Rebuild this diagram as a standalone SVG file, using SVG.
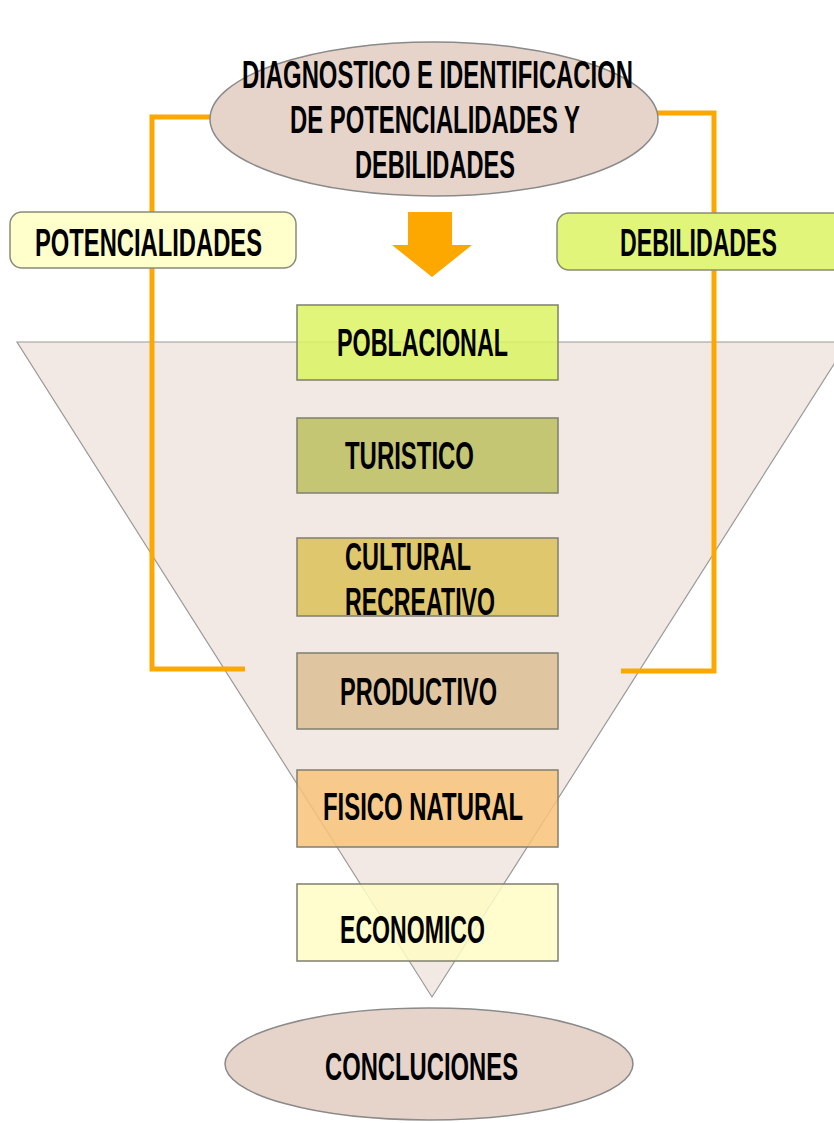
<svg xmlns="http://www.w3.org/2000/svg" width="834" height="1123" viewBox="0 0 834 1123">
<style>
.t{font-family:"Liberation Sans","DejaVu Sans",sans-serif;font-weight:bold;font-size:38px;fill:#000}
.box{stroke:#7f7f6f;stroke-width:1.5;fill-opacity:0.85}
.ell{fill:#e6d4ca;stroke:#8a8a8a;stroke-width:1.5}
.con{fill:none;stroke:#fca800;stroke-width:5}
</style>
<rect width="834" height="1123" fill="#fff"/>
<g id="funnel"><polygon points="17,342 848,342 432,997" fill="#d9bdb3" fill-opacity="0.35" stroke="#9a9a9a" stroke-width="1.2"/></g>
<g id="box-poblacional"><rect class="box" x="297" y="305" width="261" height="75" fill="#daf362"/><text class="t" x="337" y="356" textLength="171" lengthAdjust="spacingAndGlyphs">POBLACIONAL</text></g>
<g id="box-turistico"><rect class="box" x="297" y="418" width="261" height="75" fill="#bdbf5f"/><text class="t" x="345" y="469" textLength="129" lengthAdjust="spacingAndGlyphs">TURISTICO</text></g>
<g id="box-cultural"><rect class="box" x="297" y="538" width="261" height="78" fill="#dcc158"/><text class="t" x="345" y="570" textLength="126" lengthAdjust="spacingAndGlyphs">CULTURAL</text><text class="t" x="345" y="615" textLength="150" lengthAdjust="spacingAndGlyphs">RECREATIVO</text></g>
<g id="box-productivo"><rect class="box" x="297" y="653" width="261" height="76" fill="#dcc094"/><text class="t" x="340" y="705" textLength="157" lengthAdjust="spacingAndGlyphs">PRODUCTIVO</text></g>
<g id="box-fisico"><rect class="box" x="297" y="770" width="261" height="77" fill="#f8c37a"/><text class="t" x="323" y="820" textLength="200" lengthAdjust="spacingAndGlyphs">FISICO NATURAL</text></g>
<g id="box-economico"><rect class="box" x="297" y="884" width="261" height="77" fill="#fffcc4"/><text class="t" x="340" y="943" textLength="145" lengthAdjust="spacingAndGlyphs">ECONOMICO</text></g>
<g id="connectors">
<polyline class="con" points="218,117 152,117 152,669 245,669"/>
<polyline class="con" points="655,113 714,113 714,671 621,671"/>
<polygon points="408,212 452,212 452,245 472,245 432,277 392,245 408,245" fill="#fca800"/>
</g>
<g id="diagnostico"><ellipse class="ell" cx="434" cy="119" rx="224" ry="77"/>
<text class="t" x="242" y="88" textLength="391" lengthAdjust="spacingAndGlyphs">DIAGNOSTICO E IDENTIFICACION</text>
<text class="t" x="290" y="133" textLength="290" lengthAdjust="spacingAndGlyphs">DE POTENCIALIDADES Y</text>
<text class="t" x="355" y="178" textLength="160" lengthAdjust="spacingAndGlyphs">DEBILIDADES</text></g>
<g id="potencialidades"><rect x="10" y="212" width="286" height="56" rx="12" fill="#ffffcc" stroke="#8a8a7a" stroke-width="1.5"/><text class="t" x="35" y="256" textLength="227" lengthAdjust="spacingAndGlyphs">POTENCIALIDADES</text></g>
<g id="debilidades"><rect x="557" y="213" width="290" height="57" rx="12" fill="#e0f57a" stroke="#8a8a7a" stroke-width="1.5"/><text class="t" x="620" y="256" textLength="157" lengthAdjust="spacingAndGlyphs">DEBILIDADES</text></g>
<g id="conclusiones"><ellipse class="ell" cx="429" cy="1064" rx="204" ry="56"/><text class="t" x="325" y="1080" textLength="193" lengthAdjust="spacingAndGlyphs">CONCLUCIONES</text></g>
</svg>
